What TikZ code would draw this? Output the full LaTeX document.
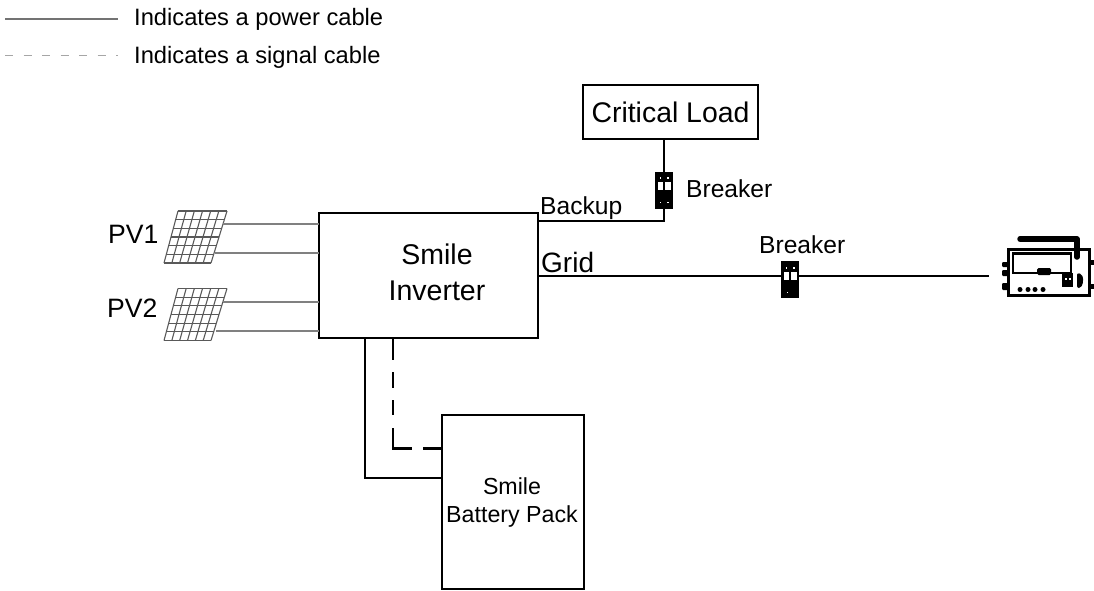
\documentclass[tikz,border=0pt]{standalone}
\usepackage{fontspec}
\setmainfont{Liberation Sans}
\tikzset{
  px/.style={x=1pt,y=-1pt},
  boxnode/.style={draw=black,line width=2.2pt,fill=white,inner sep=0pt,outer sep=0pt,anchor=north west},
  txt/.style={inner sep=0pt,anchor=base west,text=black},
  power/.style={draw=black,line width=2.2pt,line join=miter},
  signal/.style={draw=black,line width=2.2pt,dash pattern=on 22pt off 12pt on 16pt off 12pt on 15pt off 13pt on 39.5pt off 11pt on 20pt off 100pt},
  pvline/.style={draw=black!50,line width=1.8pt},
  legendsolid/.style={draw=black!55,line width=1.2pt},
  legenddash/.style={draw=black!35,line width=1pt,dash pattern=on 8pt off 10.5pt},
  breakerbox/.style={fill=black,draw=none,minimum width=18.5pt,minimum height=37pt,inner sep=0pt,outer sep=0pt},
  panelgrid/.style={draw=black!65,line width=1.1pt},
}
\newcommand{\panelat}[1]{%
  \begin{scope}[shift={(0,#1)}]
    \foreach \i in {0,...,6}{
      \draw[panelgrid] ({178-14*\i/6},{\i*52/6}) -- ({227-16*\i/6},{\i*52/6});
    }
    \foreach \i in {0,...,6}{
      \draw[panelgrid] ({178+\i*49/6},0) -- ({164+\i*47/6},52);
    }
  \end{scope}}
\newcommand{\breakerwin}[2]{%
  \fill[white] (#1-6.5,#2) rectangle (#1-1,#2+8);
  \fill[white] (#1+1,#2) rectangle (#1+6.5,#2+8);
  \fill[white] (#1-4.5,#2-5) rectangle (#1-3,#2-3.5);
  \fill[white] (#1+3,#2-5) rectangle (#1+4.5,#2-3.5);}
\begin{document}
\begin{tikzpicture}[px]
\useasboundingbox (0,0) rectangle (1094,590);
% legend
\coordinate (ls1) at (5,19); \coordinate (ls2) at (118,19);
\coordinate (ld1) at (5,55); \coordinate (ld2) at (118,55);
\draw[legendsolid] (ls1) -- (ls2);
\draw[legenddash] (ld1) -- (ld2);
\node[txt,font=\fontsize{23.7}{28}\selectfont] (lt1) at (134,25.5) {Indicates a power cable};
\node[txt,font=\fontsize{23.7}{28}\selectfont] (lt2) at (134,63.5) {Indicates a signal cable};
% boxes
\node[boxnode,minimum width=219pt,minimum height=125pt] (inv) at (319,213) {};
\node[font=\fontsize{28.5}{36}\selectfont,align=center,inner sep=0pt,anchor=base] (invt) at (437,300) {Smile\\Inverter};
\node[boxnode,minimum width=175pt,minimum height=54pt,font=\fontsize{28.4}{34}\selectfont] (load) at (583,85) {Critical Load};
\node[boxnode,minimum width=142pt,minimum height=174pt] (bat) at (442,415) {};
\node[font=\fontsize{23.2}{28}\selectfont,align=center,inner sep=0pt,anchor=base] (batt) at (512,522) {Smile\\Battery Pack};
% breakers
\node[breakerbox] (br1) at (664,190.5) {};
\node[breakerbox] (br2) at (790,279) {};
\coordinate (dev) at (989,276);
% power connectors
\draw[power] (br1.north) -- (load.south -| br1.north);
\draw[power] (inv.east |- 0,221) -- (br1.south |- 0,221) -- (br1.south);
\draw[power] (inv.east |- dev) -- (br2.west |- dev);
\draw[power] (br2.east |- dev) -- (dev);
\coordinate (bs) at (365,478);
\coordinate (bd) at (393,448.5);
\draw[power] (inv.south -| bs) -- (bs) -- (bat.west |- bs);
\draw[signal] (inv.south -| bd) -- (bd) -- (bat.west |- bd);
\breakerwin{664}{182}
\fill[white] (659.5,201.5) rectangle (661,203); \fill[white] (667,201.5) rectangle (668.5,203);
\breakerwin{790}{272}
\fill[white] (786.5,291.5) rectangle (788,293);
% labels
\node[txt,font=\fontsize{24.6}{30}\selectfont] (lb) at (540,214) {Backup};
\node[txt,font=\fontsize{28}{32}\selectfont] (lg) at (541,272) {Grid};
\node[txt,font=\fontsize{24.6}{30}\selectfont] (b1t) at (686,197) {Breaker};
\node[txt,font=\fontsize{24.6}{30}\selectfont] (b2t) at (759,253) {Breaker};
\node[txt,font=\fontsize{26.6}{32}\selectfont] (p1) at (108,243) {PV1};
\node[txt,font=\fontsize{26.6}{32}\selectfont] (p2) at (107,317) {PV2};
% PV
\panelat{211}
\panelat{288.5}
\coordinate (a1) at (223,224); \coordinate (a2) at (215,253);
\coordinate (a3) at (223,302); \coordinate (a4) at (216,331);
\draw[pvline] (a1) -- (inv.west |- a1);
\draw[pvline] (a2) -- (inv.west |- a2);
\draw[pvline] (a3) -- (inv.west |- a3);
\draw[pvline] (a4) -- (inv.west |- a4);
% device
\draw[black,line width=2.5pt,fill=white] (1008.5,249.5) rectangle (1089.5,295.5);
\draw[black,line width=2.5pt] (1013,253.5) rectangle (1071,273);
\draw[black,line width=5.5pt,line cap=round,line join=round] (1020,239) -- (1077,239) -- (1077,257);
\fill[black,rounded corners=1.5pt] (1037,268) rectangle (1051,275);
\fill[black] (1062,273) rectangle (1073,287);
\fill[white] (1065,277.5) rectangle (1067,279.5); \fill[white] (1069,277.5) rectangle (1071,279.5);
\fill[black,rounded corners=2pt] (1077,273) -- (1082,274) -- (1083.5,281) -- (1081,288) -- (1077,288) -- cycle;
\foreach \x in {1020,1028,1035,1043} \fill[black] (\x,289.5) circle (2.5);
\fill[black,rounded corners=1pt] (1002,262) rectangle (1008,267);
\fill[black,rounded corners=1pt] (1002,270) rectangle (1008,276);
\fill[black,rounded corners=1pt] (1002,283) rectangle (1008,290);
\fill[black] (1090,260) rectangle (1094,265);
\fill[black] (1090,284) rectangle (1094,289);
\end{tikzpicture}
\end{document}
